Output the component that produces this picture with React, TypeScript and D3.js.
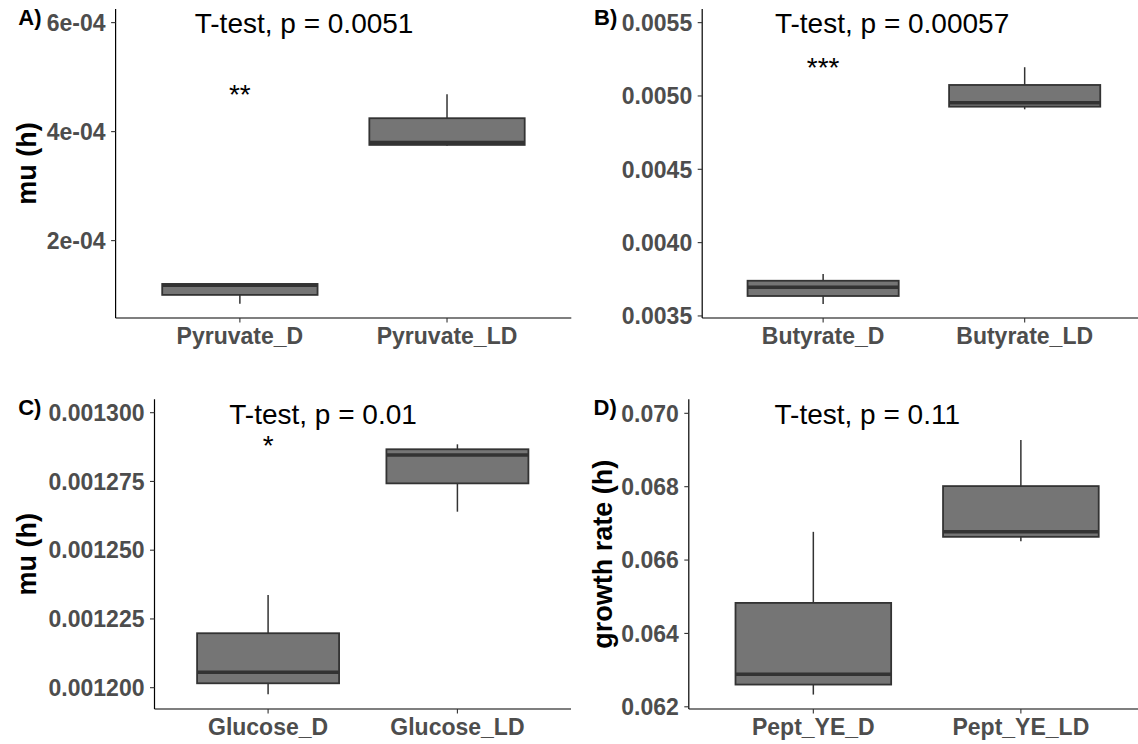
import React from 'react';
import { scaleLinear, scalePoint } from 'd3';

// five-number summaries: [lower whisker, q1, median, q3, upper whisker]
const pyruvateGroups = ['Pyruvate_D', 'Pyruvate_LD'];
const pyruvateStats = [
  [0.84e-4, 1.004e-4, 1.18e-4, 1.205e-4, 1.21e-4],
  [3.74e-4, 3.756e-4, 3.8e-4, 4.246e-4, 4.686e-4],
];
const pyruvateTicks = [2e-4, 4e-4, 6e-4];
const pyruvateTickLabels = ['2e-04', '4e-04', '6e-04'];

const butyrateGroups = ['Butyrate_D', 'Butyrate_LD'];
const butyrateStats = [
  [0.003581, 0.003636, 0.003695, 0.00374, 0.003786],
  [0.004909, 0.004927, 0.004954, 0.005075, 0.005196],
];
const butyrateTicks = [0.0035, 0.004, 0.0045, 0.005, 0.0055];
const butyrateTickLabels = ['0.0035', '0.0040', '0.0045', '0.0050', '0.0055'];

const glucoseGroups = ['Glucose_D', 'Glucose_LD'];
const glucoseStats = [
  [0.0011976, 0.0012016, 0.0012056, 0.0012198, 0.0012337],
  [0.001264, 0.0012743, 0.0012846, 0.0012867, 0.0012885],
];
const glucoseTicks = [0.0012, 0.001225, 0.00125, 0.001275, 0.0013];
const glucoseTickLabels = ['0.001200', '0.001225', '0.001250', '0.001275', '0.001300'];

const peptGroups = ['Pept_YE_D', 'Pept_YE_LD'];
const peptStats = [
  [0.062333, 0.062606, 0.062887, 0.064832, 0.066769],
  [0.066516, 0.066633, 0.066769, 0.068016, 0.069271],
];
const peptTicks = [0.062, 0.064, 0.066, 0.068, 0.07];
const peptTickLabels = ['0.062', '0.064', '0.066', '0.068', '0.070'];

const FONT = '"Liberation Sans", Arial, Helvetica, sans-serif';

type PanelProps = {
  tag: string;
  groups: string[];
  stats: number[][];
  ticks: number[];
  tickLabels: string[];
  yLimits: [number, number];
  pTextLabel: string;
  pTextOffset: number;
  stars: string;
  starY: number;
  yTitle: string;
  left: number;
  right: number;
  top: number;
  bottom: number;
  tagX: number;
};

const Panel = (p: PanelProps) => {
  const x = scalePoint<string>().domain(p.groups).range([p.left, p.right]).padding(0.6);
  const y = scaleLinear().domain(p.yLimits).range([p.bottom, p.top]);
  const boxW = x.step() * 0.75;
  const dark = '#333333';

  return (
    <g fontFamily={FONT}>
      {p.stats.map((s, i) => {
        const cx = x(p.groups[i]) as number;
        return (
          <g key={i}>
            <line x1={cx} x2={cx} y1={y(s[4])} y2={y(s[3])} stroke={dark} strokeWidth={1.5} />
            <line x1={cx} x2={cx} y1={y(s[1])} y2={y(s[0])} stroke={dark} strokeWidth={1.5} />
            <rect x={cx - boxW / 2} y={y(s[3])} width={boxW} height={y(s[1]) - y(s[3])}
              fill="#757575" stroke={dark} strokeWidth={1.8} />
            <line x1={cx - boxW / 2} x2={cx + boxW / 2} y1={y(s[2])} y2={y(s[2])}
              stroke={dark} strokeWidth={3.5} />
          </g>
        );
      })}

      <line x1={p.left} x2={p.left} y1={p.top} y2={p.bottom} stroke="black" strokeWidth={1.2} />
      <line x1={p.left} x2={p.right} y1={p.bottom} y2={p.bottom} stroke="black" strokeWidth={1.2} />

      {p.ticks.map((t, i) => (
        <g key={t}>
          <line x1={p.left - 4.5} x2={p.left} y1={y(t)} y2={y(t)} stroke={dark} strokeWidth={1.1} />
          <text x={p.left - 10} y={y(t)} dy="0.36em" textAnchor="end" fontSize={23}
            fontWeight="bold" fill="#4D4D4D">{p.tickLabels[i]}</text>
        </g>
      ))}

      {p.groups.map(g => (
        <g key={g}>
          <line x1={x(g)} x2={x(g)} y1={p.bottom} y2={p.bottom + 4.5} stroke={dark} strokeWidth={1.1} />
          <text x={x(g)} y={p.bottom + 25.5} textAnchor="middle" fontSize={23}
            fontWeight="bold" fill="#4D4D4D">{g}</text>
        </g>
      ))}

      {p.yTitle && (
        <text transform={`translate(${p.tagX + 18},${(p.top + p.bottom) / 2}) rotate(-90)`}
          textAnchor="middle" fontSize={27} fontWeight="bold" fill="black">{p.yTitle}</text>
      )}

      <text x={p.tagX} y={p.top + 16} fontSize={22} fontWeight="bold" fill="black">{p.tag}</text>

      <text x={(x(p.groups[0]) as number) + p.pTextOffset * x.step()} y={p.top + 24.3}
        fontSize={28} fill="black">{p.pTextLabel}</text>

      {p.stars && (
        <text x={x(p.groups[0])} y={y(p.starY)} textAnchor="middle" fontSize={28}
          fill="black">{p.stars}</text>
      )}
    </g>
  );
};

const App = () => {
  return (
    <svg width={1138} height={744} style={{ position: 'absolute', left: 0, top: 0, background: 'white' }}>
      <Panel tag="A)" groups={pyruvateGroups} stats={pyruvateStats} ticks={pyruvateTicks}
        tickLabels={pyruvateTickLabels} yLimits={[0.58e-4, 6.25e-4]}
        pTextLabel="T-test, p = 0.0051" pTextOffset={-0.218} stars="**" starY={4.51e-4}
        yTitle="mu (h)" left={115.6} right={571.3} top={9} bottom={318} tagX={18.3} />
      <Panel tag="B)" groups={butyrateGroups} stats={butyrateStats} ticks={butyrateTicks}
        tickLabels={butyrateTickLabels} yLimits={[0.003486, 0.005593]}
        pTextLabel="T-test, p = 0.00057" pTextOffset={-0.239} stars="***" starY={0.00513}
        yTitle="" left={702.2} right={1145.6} top={9} bottom={318} tagX={594} />
      <Panel tag="C)" groups={glucoseGroups} stats={glucoseStats} ticks={glucoseTicks}
        tickLabels={glucoseTickLabels} yLimits={[0.00119225, 0.00130487]}
        pTextLabel="T-test, p = 0.01" pTextOffset={-0.205} stars="*" starY={0.0012846}
        yTitle="mu (h)" left={154.5} right={571} top={399.3} bottom={709} tagX={18.2} />
      <Panel tag="D)" groups={peptGroups} stats={peptStats} ticks={peptTicks}
        tickLabels={peptTickLabels} yLimits={[0.06194, 0.070382]}
        pTextLabel="T-test, p = 0.11" pTextOffset={-0.187} stars="" starY={0}
        yTitle="growth rate (h)" left={688.8} right={1145.4} top={399.3} bottom={709} tagX={593.5} />
    </svg>
  );
};

export default App;
